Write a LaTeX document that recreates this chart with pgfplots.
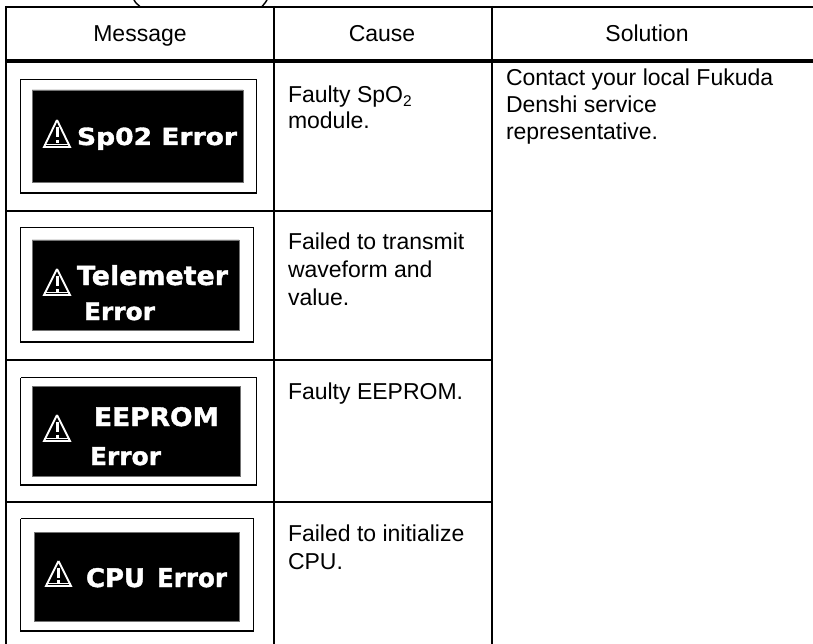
\documentclass[border=0pt]{standalone}
\usepackage{fontspec}
\usepackage{graphicx}
\usepackage{pgfplots}
\pgfplotsset{compat=1.18}
\setmainfont{Liberation Sans}
\newfontfamily\lcd[RawFeature={embolden=1.5}]{DejaVu Sans Bold}
\newcommand{\bodytext}{\fontsize{23}{27.7}\selectfont}
\newcommand{\lcdtxt}[3]{\resizebox{#1pt}{#2pt}{\lcd\color{white}#3}}
\tikzset{T/.style={inner sep=0pt,outer sep=0pt,font=\bodytext,anchor=base west},
         C/.style={inner sep=0pt,outer sep=0pt,font=\bodytext,anchor=base}}
\pgfplotsset{
  grid line/.style={black,line width=2.2pt,no markers,forget plot},
  thick line/.style={black,line width=3.2pt,no markers,forget plot},
  frame/.style={black,line width=1.1pt,no markers,forget plot},
  screen/.style={fill=black,draw=black!55,line width=0.6pt,no markers,forget plot},
  icon/.style={white,line width=1.9pt,no markers,forget plot},
  iconbar/.style={white,line width=3pt,no markers,forget plot},
}
\begin{document}
\begin{tikzpicture}
\path[use as bounding box] (0,0) rectangle (813pt,644pt);
\clip (0,0) rectangle (813pt,644pt);
\begin{axis}[
  scale only axis, width=813pt, height=644pt,
  xmin=0, xmax=813, ymin=0, ymax=644, y dir=reverse,
  hide axis, clip=false
]
% heading remnants
\addplot[black,line width=1.4pt,no markers,forget plot] coordinates {(134,0) (136,3) (140,6.5)};
\addplot[black,line width=1.4pt,no markers,forget plot] coordinates {(267,0) (265,3) (262,6.5)};
% table rules
\addplot[grid line] coordinates {(6,6) (6,644)};
\addplot[grid line] coordinates {(274,6) (274,644)};
\addplot[grid line] coordinates {(492,6) (492,644)};
\addplot[grid line] coordinates {(5,7) (813,7)};
\addplot[thick line] coordinates {(5,61) (813,61)};
\addplot[grid line] coordinates {(5,211) (493,211)};
\addplot[grid line] coordinates {(5,360) (493,360)};
\addplot[grid line] coordinates {(5,502) (493,502)};
% picture frames
\addplot[frame] coordinates {(20.5,79.5) (256.5,79.5) (256.5,193) (20.5,193) (20.5,79.5)};
\addplot[frame] coordinates {(20.5,227.5) (253.5,227.5) (253.5,342) (20.5,342) (20.5,227.5)};
\addplot[frame] coordinates {(20.5,377.5) (256.5,377.5) (256.5,485) (20.5,485) (20.5,377.5)};
\addplot[frame] coordinates {(20.5,518.5) (253.5,518.5) (253.5,631) (20.5,631) (20.5,518.5)};
% screens
\addplot[screen] coordinates {(32,90) (243,90) (243,182) (32,182) (32,90)};
\addplot[screen] coordinates {(32,240) (239,240) (239,330) (32,330) (32,240)};
\addplot[screen] coordinates {(32,386) (240,386) (240,476) (32,476) (32,386)};
\addplot[screen] coordinates {(34,532) (239,532) (239,621) (34,621) (34,532)};
% warning triangles
\addplot[icon] coordinates {(57,120) (44,147) (70,147) (57,120)};
\addplot[icon] coordinates {(44,144.5) (70,144.5)};
\addplot[iconbar] coordinates {(57,127) (57,137)};
\addplot[iconbar] coordinates {(57,140) (57,143)};
\addplot[icon] coordinates {(57,269) (44,295) (70,295) (57,269)};
\addplot[icon] coordinates {(44,292.5) (70,292.5)};
\addplot[iconbar] coordinates {(57,276) (57,286)};
\addplot[iconbar] coordinates {(57,288.5) (57,291.5)};
\addplot[icon] coordinates {(57,415) (44,441) (70,441) (57,415)};
\addplot[icon] coordinates {(44,438.5) (70,438.5)};
\addplot[iconbar] coordinates {(57,422) (57,432)};
\addplot[iconbar] coordinates {(57,434.5) (57,437.5)};
\addplot[icon] coordinates {(58.5,561) (46,586) (71,586) (58.5,561)};
\addplot[icon] coordinates {(46,583.5) (71,583.5)};
\addplot[iconbar] coordinates {(58.5,568) (58.5,577.5)};
\addplot[iconbar] coordinates {(58.5,580) (58.5,583)};
% screen texts
\node[T] at (axis cs:77,145) {\lcdtxt{160}{17.5}{Sp02 Error}};
\node[T] at (axis cs:77,285) {\lcdtxt{151}{20}{Telemeter}};
\node[T] at (axis cs:84,320) {\lcdtxt{71}{17.5}{Error}};
\node[T] at (axis cs:94,426) {\lcdtxt{125}{19}{EEPROM}};
\node[T] at (axis cs:90,465) {\lcdtxt{71}{18}{Error}};
\node[T] at (axis cs:86,587) {\lcdtxt{59}{19}{CPU}};
\node[T] at (axis cs:157,587) {\lcdtxt{70}{19}{Error}};
% header
\node[C] at (axis cs:140,42) {Message};
\node[C] at (axis cs:382,42) {Cause};
\node[C] at (axis cs:647,42) {Solution};
% cause
\node[T] at (axis cs:288,103) {Faulty SpO\raisebox{-0.15em}{\fontsize{15.5}{15.5}\selectfont 2}};
\node[T] at (axis cs:288,129) {module.};
\node[T] at (axis cs:288,249) {Failed to transmit};
\node[T] at (axis cs:288,277) {waveform and};
\node[T] at (axis cs:288,305) {value.};
\node[T] at (axis cs:288,399) {Faulty EEPROM.};
\node[T] at (axis cs:288,541) {Failed to initialize};
\node[T] at (axis cs:288,569) {CPU.};
% solution
\node[T] at (axis cs:506,85.5) {Contact your local Fukuda};
\node[T] at (axis cs:506,113) {Denshi service};
\node[T] at (axis cs:506,140) {representative.};
\end{axis}
\end{tikzpicture}
\end{document}
